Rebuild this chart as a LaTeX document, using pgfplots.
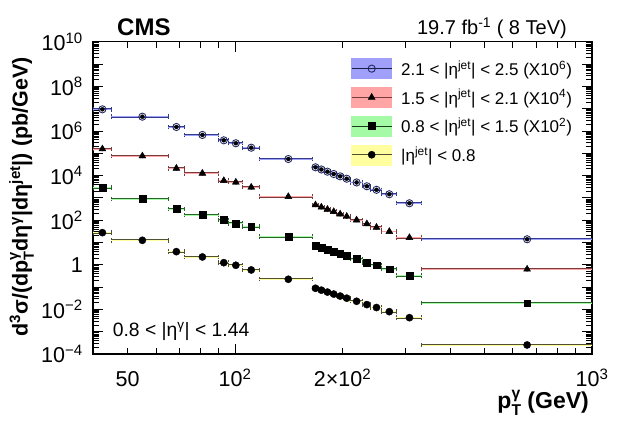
\documentclass[border=0pt]{standalone}
\usepackage{fontspec}
\setmainfont{Liberation Sans}
\usepackage{pgfplots}
\pgfplotsset{compat=1.18}
\usepackage{pgfplotstable}

\newcommand{\ssc}[2]{\rlap{\raisebox{0.45em}{\scalebox{0.68}{#1}}}\raisebox{-0.3em}{\scalebox{0.68}{#2}}}

\definecolor{bandB}{RGB}{160,160,250}
\definecolor{bandR}{RGB}{255,165,165}
\definecolor{bandG}{RGB}{165,250,165}
\definecolor{bandY}{RGB}{255,255,160}
\definecolor{lineB}{RGB}{50,60,140}
\definecolor{lineR}{RGB}{120,60,60}
\definecolor{lineG}{RGB}{40,100,40}
\definecolor{lineY}{RGB}{80,80,50}

% x  y  x-error-minus  x-error-plus
\pgfplotstableread{
x y exm exp
42.5 9.3e6 2.5 2.5
55 4.35e6 10 10
68.5 1.5e6 3.5 3.5
81 6.6e5 9 9
93 3.8e5 3 3
100.5 2.8e5 4.5 4.5
111 1.77e5 6 6
141 5.5e4 24 24
168 2.34e4 3 3
174.5 1.87e4 3.5 3.5
181.5 1.49e4 3.5 3.5
189 1.17e4 4 4
197 9.2e3 4 4
205.5 7.2e3 4.5 4.5
219 4.9e3 9 9
234 3.3e3 6 6
249 2.3e3 9 9
270.5 1.45e3 12.5 12.5
308 571 25 25
658 13.9 325 342
}\tabB
\pgfplotstableread{
x y exm exp
42.5 1.55e5 2.5 2.5
55 7.5e4 10 10
68.5 2.1e4 3.5 3.5
81 1.26e4 9 9
93 5.9e3 3 3
100.5 5.0e3 4.5 4.5
111 2.98e3 6 6
141 1.13e3 24 24
168 479 3 3
174.5 382 3.5 3.5
181.5 304 3.5 3.5
189 240 4 4
197 187 4 4
205.5 146 4.5 4.5
219 101 9 9
234 68 6 6
249 47.5 9 9
270.5 30.8 12.5 12.5
308 16.4 25 25
658 0.63 325 342
}\tabR
\pgfplotstableread{
x y exm exp
42.5 2860 2.5 2.5
55 889 10 10
68.5 317 3.5 3.5
81 171 9 9
93 102 3 3
100.5 72 4.5 4.5
111 51 6 6
141 18.2 24 24
168 6.97 3 3
174.5 5.73 3.5 3.5
181.5 4.71 3.5 3.5
189 3.83 4 4
197 3.11 4 4
205.5 2.51 4.5 4.5
219 1.82 9 9
234 1.29 6 6
249 0.95 9 9
270.5 0.63 12.5 12.5
308 0.325 25 25
658 0.0188 325 342
}\tabG
\pgfplotstableread{
x y exm exp
42.5 27.5 2.5 2.5
55 12.5 10 10
68.5 3.87 3.5 3.5
81 2.24 9 9
93 1.24 3 3
100.5 0.95 4.5 4.5
111 0.585 6 6
141 0.224 24 24
168 0.0885 3 3
174.5 0.0727 3.5 3.5
181.5 0.0597 3.5 3.5
189 0.0486 4 4
197 0.0395 4 4
205.5 0.0318 4.5 4.5
219 0.0231 9 9
234 0.0164 6 6
249 0.0121 9 9
270.5 0.0079 12.5 12.5
308 0.00425 25 25
658 0.000254 325 342
}\tabY

\pgfplotsset{
  darkbars/.style={only marks, mark=none, forget plot,
    /pgfplots/error bars/x dir=both,
    /pgfplots/error bars/x explicit,
    /pgfplots/error bars/error mark=|,
    /pgfplots/error bars/error bar style={line width=1.8bp, draw=#1},
    /pgfplots/error bars/error mark options={line width=1bp, draw=#1, mark size=2.2bp}},
  lightbars/.style={
    /pgfplots/error bars/x dir=both,
    /pgfplots/error bars/x explicit,
    /pgfplots/error bars/error bar style={line width=0.6bp, draw=#1},
    /pgfplots/error bars/error mark=none},
}

\begin{document}
\begin{tikzpicture}
\begin{axis}[
  at={(93bp,68bp)}, anchor=south west,
  scale only axis, width=499bp, height=312.3bp,
  xmode=log, ymode=log,
  xmin=40, xmax=1000, ymin=1e-4, ymax=1e10,
  xtick={100,1000},
  xticklabels={10\textsuperscript{2},10\textsuperscript{3}},
  extra x ticks={50,200},
  extra x tick labels={50,2×10\textsuperscript{2}},
  extra x tick style={major tick length=6bp},
  minor xtick={40,60,70,80,90,300,400,500,600,700,800,900},
  ytick={1e-4,1e-3,1e-2,1e-1,1,1e1,1e2,1e3,1e4,1e5,1e6,1e7,1e8,1e9,1e10},
  yticklabels={10\textsuperscript{−4},,10\textsuperscript{−2},,1,,10\textsuperscript{2},,10\textsuperscript{4},,10\textsuperscript{6},,10\textsuperscript{8},,10\textsuperscript{10}},
  minor ytick={2e-4,3e-4,4e-4,5e-4,6e-4,7e-4,8e-4,9e-4,
    2e-3,3e-3,4e-3,5e-3,6e-3,7e-3,8e-3,9e-3,
    2e-2,3e-2,4e-2,5e-2,6e-2,7e-2,8e-2,9e-2,
    2e-1,3e-1,4e-1,5e-1,6e-1,7e-1,8e-1,9e-1,
    2,3,4,5,6,7,8,9,
    2e1,3e1,4e1,5e1,6e1,7e1,8e1,9e1,
    2e2,3e2,4e2,5e2,6e2,7e2,8e2,9e2,
    2e3,3e3,4e3,5e3,6e3,7e3,8e3,9e3,
    2e4,3e4,4e4,5e4,6e4,7e4,8e4,9e4,
    2e5,3e5,4e5,5e5,6e5,7e5,8e5,9e5,
    2e6,3e6,4e6,5e6,6e6,7e6,8e6,9e6,
    2e7,3e7,4e7,5e7,6e7,7e7,8e7,9e7,
    2e8,3e8,4e8,5e8,6e8,7e8,8e8,9e8,
    2e9,3e9,4e9,5e9,6e9,7e9,8e9,9e9},
  major tick length=10bp, minor tick length=6bp,
  every tick/.style={line width=0.7bp, black},
  axis line style={line width=1.1bp},
  ticklabel style={font=\fontsize{21.5bp}{25bp}\selectfont},
  xticklabel style={anchor=base, yshift=-32.7bp},
  yticklabel style={anchor=east, inner sep=0pt, xshift=-10bp},
  legend style={at={(0.517,0.947)}, anchor=north west, draw=none, fill=none,
    inner sep=0pt, row sep=8.3bp, column sep=9bp,
    font=\fontsize{17bp}{20bp}\selectfont,
    cells={anchor=west}, nodes={inner sep=0pt}},
]
% 2.1 < |eta jet| < 2.5
\addplot[darkbars=lineB] table[x=x,y=y,x error minus=exm,x error plus=exp]{\tabB};
\addplot[only marks, mark=o, mark size=3.6bp, mark options={draw=lineB!70!black, line width=0.9bp},
  lightbars=bandB,
  legend image code/.code={
    \fill[bandB] (0bp,-10bp) rectangle (40bp,10bp);
    \draw[lineB!50!black, line width=1bp] (0bp,0bp) -- (40bp,0bp);
    \draw plot coordinates {(20bp,0bp)};}]
  table[x=x,y=y,x error minus=exm,x error plus=exp]{\tabB};
\addlegendentry{2.1 < |η\textsuperscript{jet}| < 2.5 (X10\textsuperscript{6})}
% 1.5 < |eta jet| < 2.1
\addplot[darkbars=lineR] table[x=x,y=y,x error minus=exm,x error plus=exp]{\tabR};
\addplot[only marks, mark=triangle*, mark size=4bp, mark options={draw=black, fill=black, line width=0.4bp},
  lightbars=bandR,
  legend image code/.code={
    \fill[bandR] (0bp,-10bp) rectangle (40bp,10bp);
    \draw[lineR, line width=1bp] (0bp,0bp) -- (40bp,0bp);
    \draw plot coordinates {(20bp,0bp)};}]
  table[x=x,y=y,x error minus=exm,x error plus=exp]{\tabR};
\addlegendentry{1.5 < |η\textsuperscript{jet}| < 2.1 (X10\textsuperscript{4})}
% 0.8 < |eta jet| < 1.5
\addplot[darkbars=lineG] table[x=x,y=y,x error minus=exm,x error plus=exp]{\tabG};
\addplot[only marks, mark=square*, mark size=3.4bp, mark options={draw=black, fill=black, line width=0.4bp},
  lightbars=bandG,
  legend image code/.code={
    \fill[bandG] (0bp,-10bp) rectangle (40bp,10bp);
    \draw[lineG!60!black, line width=1bp] (0bp,0bp) -- (40bp,0bp);
    \draw plot coordinates {(20bp,0bp)};}]
  table[x=x,y=y,x error minus=exm,x error plus=exp]{\tabG};
\addlegendentry{0.8 < |η\textsuperscript{jet}| < 1.5 (X10\textsuperscript{2})}
% |eta jet| < 0.8
\addplot[darkbars=lineY] table[x=x,y=y,x error minus=exm,x error plus=exp]{\tabY};
\addplot[only marks, mark=*, mark size=3.6bp, mark options={draw=black, fill=black, line width=0.4bp},
  lightbars=bandY,
  legend image code/.code={
    \fill[bandY] (0bp,-10bp) rectangle (40bp,10bp);
    \draw[lineY, line width=1bp] (0bp,0bp) -- (40bp,0bp);
    \draw plot coordinates {(20bp,0bp)};}]
  table[x=x,y=y,x error minus=exm,x error plus=exp]{\tabY};
\addlegendentry{|η\textsuperscript{jet}| < 0.8}
\end{axis}

\node[anchor=base west, inner sep=0pt, font=\fontsize{24bp}{28bp}\selectfont\bfseries] at (117bp,386bp) {CMS};
\node[anchor=base east, inner sep=0pt, font=\fontsize{20bp}{24bp}\selectfont] at (567bp,387bp) {19.7 fb\textsuperscript{-1} ( 8 TeV)};
\node[anchor=base west, inner sep=0pt, font=\fontsize{19.3bp}{23bp}\selectfont] at (112.7bp,85.3bp) {0.8 < |η\textsuperscript{γ}| < 1.44};
\node[rotate=90, anchor=base, inner sep=0pt, font=\fontsize{21.5bp}{26bp}\selectfont\bfseries] at (27.5bp,225bp)
  {d\textsuperscript{3}σ/(dp\ssc{γ}{T}dη\textsuperscript{γ}|dη\textsuperscript{jet}|) (pb/GeV)};
\node[anchor=base east, inner sep=0pt, font=\fontsize{23bp}{27bp}\selectfont\bfseries] at (589bp,13.5bp)
  {p\ssc{γ}{T} (GeV)};

\pgfresetboundingbox
\path (0bp,0bp) rectangle (623bp,422bp);
\end{tikzpicture}
\end{document}
